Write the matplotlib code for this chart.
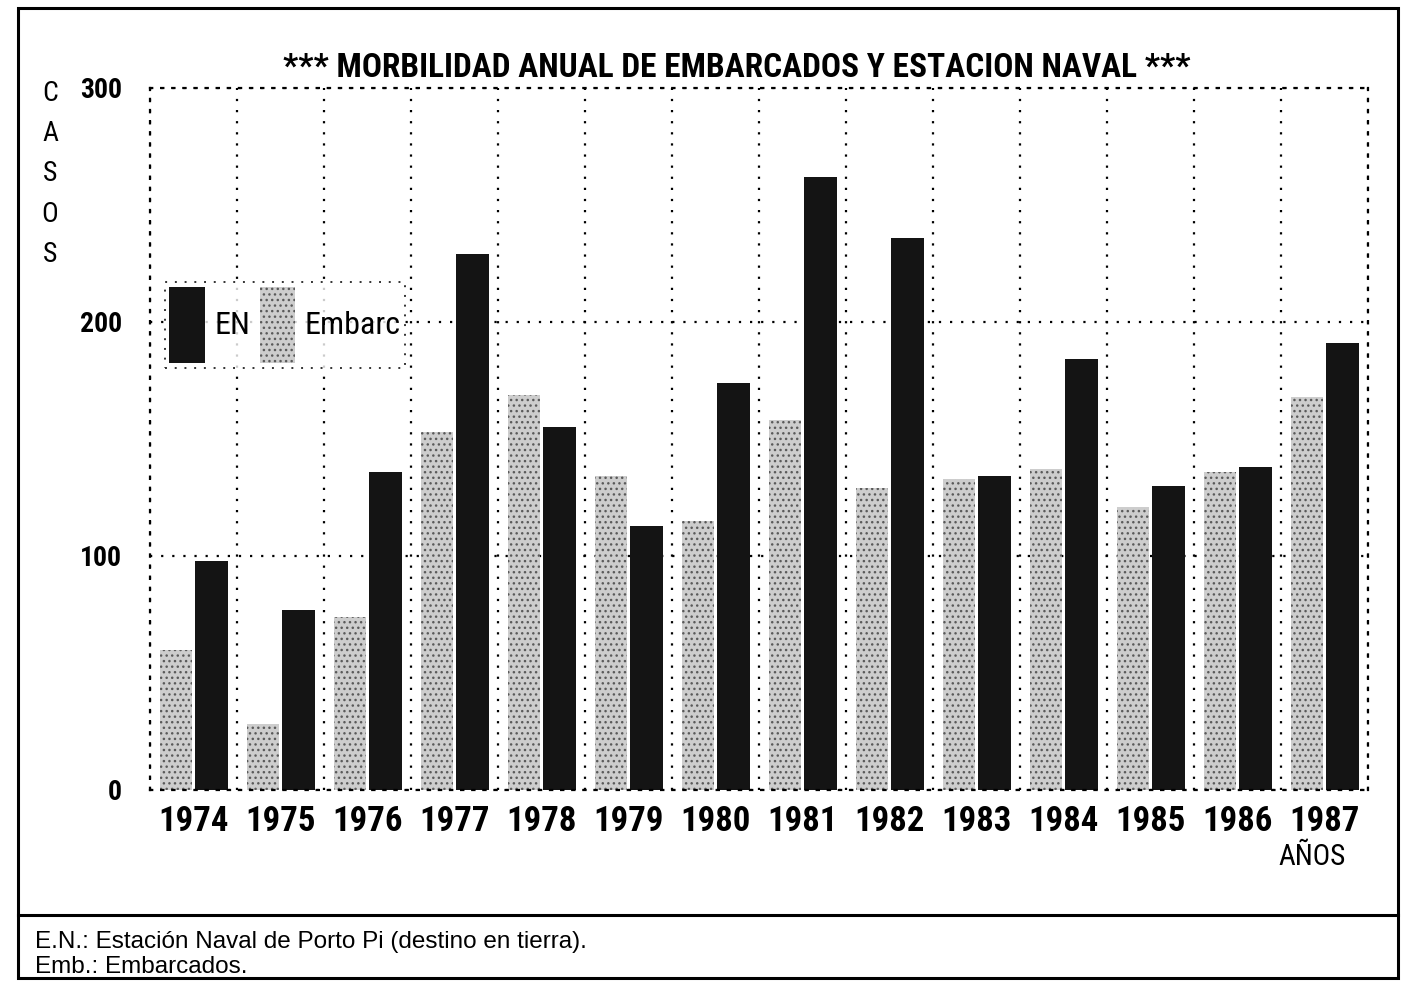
"""Morbilidad anual de embarcados y estacion naval, 1974-1987 (bar chart)."""

# imports
import numpy as np
import matplotlib
matplotlib.use('Agg')
import matplotlib.pyplot as plt
from matplotlib import font_manager
from matplotlib.patches import Patch, Rectangle
from matplotlib.lines import Line2D

# data
years = ["1974", "1975", "1976", "1977", "1978", "1979", "1980",
         "1981", "1982", "1983", "1984", "1985", "1986", "1987"]
embarc = [60, 28, 74, 153, 169, 134, 115, 158, 129, 133, 137, 121, 136, 168]
en = [98, 77, 136, 229, 155, 113, 174, 262, 236, 134, 184, 130, 138, 191]
y_ticks = [0, 100, 200, 300]
title = "*** MORBILIDAD ANUAL DE EMBARCADOS Y ESTACION NAVAL ***"
notes = ["E.N.: Estación Naval de Porto Pi (destino en tierra).",
         "Emb.: Embarcados."]


def pick_font(names):
    # first installed family from the list
    for n in names:
        try:
            font_manager.findfont(font_manager.FontProperties(family=n),
                                  fallback_to_default=False)
            return n
        except ValueError:
            pass
    return 'DejaVu Sans'


narrow = pick_font(['Liberation Sans Narrow', 'Roboto Condensed',
                    'Open Sans Condensed', 'DejaVu Sans'])
plain = pick_font(['Liberation Sans', 'DejaVu Sans'])
nf = dict(family=[narrow, 'DejaVu Sans'], weight='bold', stretch='condensed')

light = '#cdcdcd'
dark = '#141414'

W, H = 1406, 984
fig = plt.figure(figsize=(W / 100, H / 100), dpi=100)
ax = fig.add_axes([150 / W, 1 - 790 / H, (1368 - 150) / W, (790 - 88) / H])

x = np.arange(len(years))
ax.bar(x + 0.30, embarc, 0.37, color=light, edgecolor='#5a5a5a',
       linewidth=0, hatch='...', label='Embarc')
ax.bar(x + 0.71, en, 0.38, color=dark, linewidth=0, label='EN')

ax.set_xlim(0, len(years))
ax.set_ylim(0, 300)
ax.set_xticks(x + 0.5)
ax.set_xticklabels(years, fontsize=25, **nf)
ax.set_xticks(np.arange(len(years) + 1), minor=True)
ax.set_yticks(y_ticks)
ax.set_yticklabels([str(v) for v in y_ticks], fontsize=20, **nf)
ax.tick_params(which='both', length=0)
ax.tick_params(axis='x', pad=11)
ax.tick_params(axis='y', pad=20)

dots = (0, (1, 4))
ax.set_axisbelow(True)
ax.grid(which='minor', axis='x', color='black', linestyle=dots, linewidth=1.6)
ax.grid(which='major', axis='y', color='black', linestyle=dots, linewidth=1.6)
ax.grid(which='major', axis='x', visible=False)
for s in ax.spines.values():
    s.set_linestyle(dots)
    s.set_linewidth(1.6)

# legend: EN first, then Embarc
handles = [Patch(facecolor=dark, linewidth=0),
           Patch(facecolor=light, edgecolor='#5a5a5a', linewidth=0, hatch='...')]
leg = ax.legend(handles, ['EN', 'Embarc'], ncol=2, loc='upper left',
                bbox_to_anchor=(0.012, 0.724), frameon=True, fancybox=False,
                handlelength=1.1, handleheight=3.3, handletextpad=0.3,
                columnspacing=0.3, borderpad=0.15, borderaxespad=0,
                prop=font_manager.FontProperties(family=[narrow, 'DejaVu Sans'],
                                                 size=23))
leg.get_frame().set_linestyle(dots)
leg.get_frame().set_edgecolor('black')
leg.get_frame().set_linewidth(1.4)

# texts
fig.text(737 / W, 1 - 68 / H, title, ha='center', va='center', fontsize=24, **nf)
fig.text(50 / W, 1 - 174 / H, "C\nA\nS\nO\nS", ha='center', va='center',
         fontsize=20, linespacing=1.62, family=[narrow, 'DejaVu Sans'])
fig.text(1312 / W, 1 - 857 / H, "AÑOS", ha='center', va='center', fontsize=21,
         family=[narrow, 'DejaVu Sans'])
fig.text(35 / W, 1 - 942 / H, notes[0], ha='left', va='center', fontsize=17.5,
         family=[plain, 'DejaVu Sans'])
fig.text(35 / W, 1 - 967 / H, notes[1], ha='left', va='center', fontsize=17.5,
         family=[plain, 'DejaVu Sans'])

# outer frame and separator above the notes
fig.add_artist(Rectangle((18 / W, 1 - 978 / H), (1398 - 18) / W, (978 - 8) / H,
                         transform=fig.transFigure, fill=False, linewidth=2.2,
                         edgecolor='black'))
fig.add_artist(Line2D([18 / W, 1398 / W], [1 - 915 / H, 1 - 915 / H],
                      transform=fig.transFigure, color='black', linewidth=2.2))

plt.savefig('out.png', dpi=100)
